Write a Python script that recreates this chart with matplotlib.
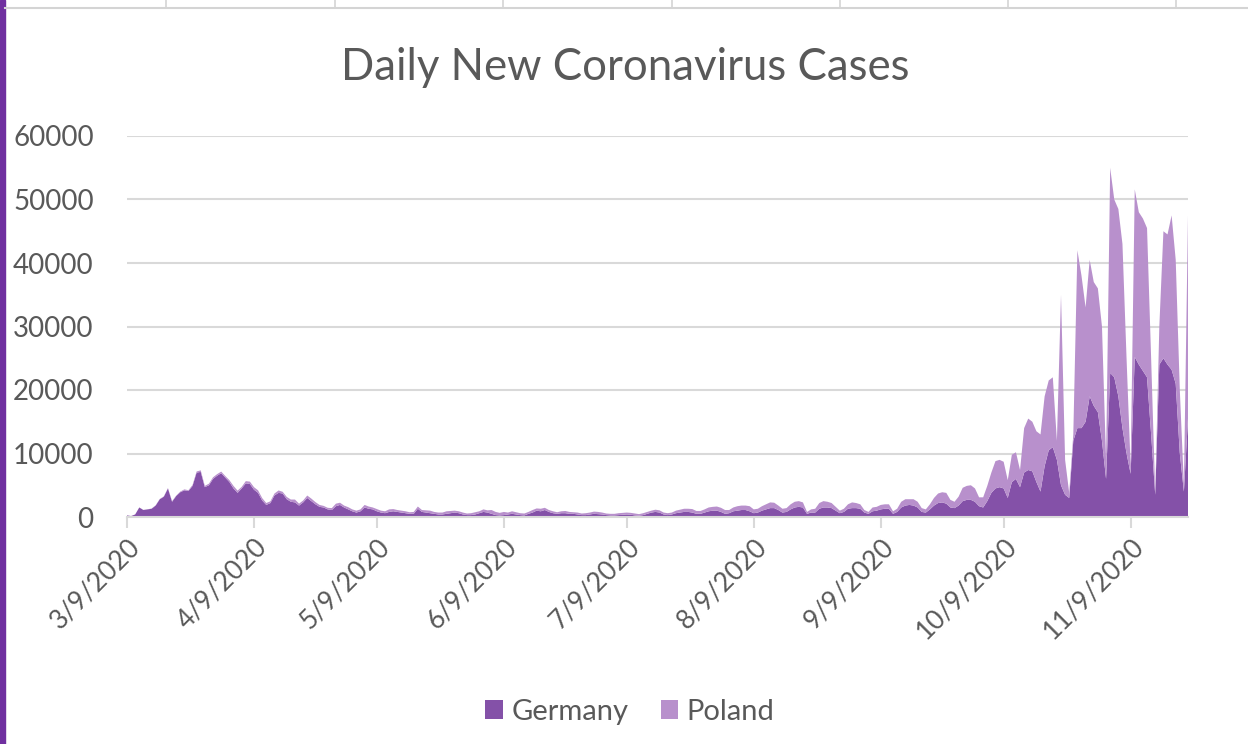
import pandas as pd
import matplotlib
matplotlib.use('Agg')
import matplotlib.pyplot as plt
from matplotlib.patches import Patch, Rectangle
from matplotlib.lines import Line2D
from matplotlib.transforms import ScaledTranslation

# daily new cases, one row per week (weeks start on Monday 3/9/2020)
germany = [
    250, 150, 400, 1500, 1100, 1200, 1300,
    1800, 2800, 3200, 4500, 2400, 3300, 3900,
    4200, 4100, 4900, 7000, 7100, 4700, 5000,
    6000, 6500, 6900, 6200, 5500, 4500, 3800,
    4500, 5300, 5200, 4300, 3800, 2600, 1900,
    2200, 3400, 3800, 3700, 2800, 2400, 2300,
    1800, 2300, 3000, 2500, 2000, 1600, 1500,
    1200, 1100, 1700, 1900, 1500, 1200, 900,
    700, 900, 1500, 1300, 1200, 900, 700,
    600, 800, 900, 800, 700, 600, 500,
    500, 1300, 800, 700, 600, 500, 400,
    400, 500, 600, 700, 600, 400, 300,
    300, 400, 600, 800, 700, 500, 300,
    250, 300, 400, 500, 400, 300, 250,
    500, 700, 1000, 900, 1100, 800, 600,
    500, 600, 600, 500, 500, 400, 300,
    300, 400, 500, 450, 400, 300, 250,
    250, 300, 350, 400, 350, 250, 200,
    300, 500, 700, 800, 700, 400, 300,
    400, 600, 700, 800, 800, 700, 500,
    500, 700, 900, 1000, 1000, 800, 500,
    600, 900, 1000, 1100, 1100, 900, 600,
    700, 1000, 1200, 1400, 1400, 1100, 700,
    800, 1200, 1500, 1600, 1500, 500, 700,
    700, 1300, 1500, 1500, 1400, 1000, 600,
    800, 1300, 1400, 1400, 1300, 700, 500,
    900, 1000, 1200, 1300, 1300, 500, 800,
    1500, 1800, 1900, 1800, 1500, 800, 700,
    1200, 1800, 2200, 2300, 2100, 1500, 1400,
    1800, 2500, 2700, 2700, 2400, 1700, 1500,
    2500, 3800, 4500, 4700, 4500, 3000, 5500,
    6000, 4700, 7000, 7400, 7200, 5500, 4000,
    8000, 10500, 11000, 9000, 5000, 3500, 3000,
    12000, 14000, 14000, 15000, 19000, 17500, 16500,
    12000, 6000, 22700, 22000, 19000, 14000, 10000,
    6800, 25200, 24000, 23000, 22000, 13000, 3500,
    24000, 25000, 24000, 23200, 21000, 10000, 4000,
    15500,
]
poland = [
    5, 5, 10, 10, 20, 20, 25,
    50, 40, 60, 50, 100, 60, 100,
    150, 120, 150, 170, 250, 200, 250,
    250, 250, 250, 250, 300, 400, 350,
    250, 350, 370, 400, 400, 380, 300,
    270, 300, 380, 270, 360, 350, 450,
    300, 300, 380, 400, 350, 300, 250,
    250, 300, 400, 350, 300, 350, 300,
    300, 300, 400, 350, 300, 350, 300,
    300, 400, 350, 300, 300, 300, 250,
    300, 350, 300, 350, 400, 300, 300,
    300, 400, 350, 300, 300, 300, 250,
    300, 350, 300, 400, 350, 600, 500,
    400, 500, 300, 400, 350, 300, 300,
    300, 400, 350, 400, 350, 300, 300,
    250, 300, 350, 300, 250, 300, 250,
    300, 300, 350, 350, 300, 250, 250,
    250, 300, 300, 300, 300, 300, 250,
    300, 300, 300, 350, 350, 300, 300,
    300, 400, 450, 500, 500, 550, 450,
    450, 500, 600, 600, 650, 650, 600,
    500, 600, 700, 700, 700, 800, 600,
    600, 700, 800, 900, 850, 700, 600,
    600, 800, 900, 900, 800, 300, 500,
    600, 900, 1000, 900, 800, 600, 400,
    500, 700, 900, 800, 700, 400, 300,
    600, 600, 700, 700, 700, 400, 500,
    900, 1000, 900, 1000, 900, 600, 500,
    800, 1200, 1500, 1600, 1700, 1200, 1000,
    1400, 2100, 2200, 2300, 2100, 1400, 1600,
    2400, 3200, 4300, 4300, 4200, 2800, 4300,
    4200, 2700, 7000, 8100, 7800, 8000, 9000,
    11000, 11000, 11000, 3000, 30000, 5500, 800,
    1000, 28000, 24000, 18000, 21500, 19500, 19500,
    18000, 3000, 32300, 28000, 29500, 29000, 15000,
    1100, 26400, 24000, 24000, 23500, 12000, 300,
    6000, 20000, 20500, 24300, 19500, 10000, 1000,
    32000,
]
series_names = ['Germany', 'Poland']
series_colors = ['#8451A8', '#B890CC']

dates = pd.date_range('2020-03-09', periods=len(germany), freq='D')
tick_dates = [pd.Timestamp(2020, m, 9) for m in range(3, 12)]
tick_labels = [f'{d.month}/{d.day}/{d.year}' for d in tick_dates]
y_ticks = list(range(0, 60001, 10000))

plt.rcParams['font.family'] = ['Lato', 'DejaVu Sans']
text_gray = '#595959'
grid_gray = '#D9D9D9'

fig = plt.figure(figsize=(12.48, 7.44), dpi=100)
ax = fig.add_axes([127 / 1248, 1 - 517 / 744, 1061 / 1248, 381 / 744])

ax.stackplot(dates, germany, poland, colors=series_colors, labels=series_names, lw=0)

ax.set_ylim(0, 60000)
ax.set_xlim(dates[0], dates[-1])
ax.set_yticks(y_ticks)
ax.set_yticklabels([str(v) for v in y_ticks])
ax.set_xticks(tick_dates)
ax.set_xticklabels(tick_labels, rotation=45, ha='right', rotation_mode='anchor')
shift = ScaledTranslation(-7 / 100, -6 / 100, fig.dpi_scale_trans)
for lbl in ax.get_xticklabels():
    lbl.set_transform(lbl.get_transform() + shift)

ax.grid(axis='y', color=grid_gray, lw=1.5)
ax.set_axisbelow(True)
for side in ['top', 'right', 'left']:
    ax.spines[side].set_visible(False)
ax.spines['bottom'].set_color(grid_gray)
ax.spines['bottom'].set_linewidth(1.5)
ax.tick_params(axis='y', length=0, pad=24, labelsize=20, labelcolor=text_gray)
ax.tick_params(axis='x', length=8, width=1.5, color=grid_gray, pad=4,
               labelsize=19, labelcolor=text_gray)

fig.text(625 / 1248, 1 - 67 / 744, 'Daily New Coronavirus Cases', ha='center', va='center',
         fontsize=31.5, color=text_gray)

handles = [Patch(facecolor=c, label=n) for c, n in zip(series_colors, series_names)]
fig.legend(handles=handles, loc='center', bbox_to_anchor=(630 / 1248, 1 - 712 / 744), ncol=2,
           frameon=False, fontsize=21, labelcolor=text_gray, handlelength=0.6, handleheight=0.6,
           handletextpad=0.3, columnspacing=1.1)

# spreadsheet frame around the chart
fig.patches.append(Rectangle((0, 0), 5 / 1248, 1, transform=fig.transFigure, color='#7030A0'))
fig.lines.append(Line2D([5 / 1248, 1], [1 - 8 / 744] * 2, transform=fig.transFigure,
                        color='#D4D4D4', lw=1.5))
for x in [166, 335, 503, 672, 840, 1008, 1176]:
    fig.lines.append(Line2D([x / 1248] * 2, [1 - 8 / 744, 1], transform=fig.transFigure,
                            color='#D4D4D4', lw=1.2))

fig.savefig('out.png', dpi=100)
